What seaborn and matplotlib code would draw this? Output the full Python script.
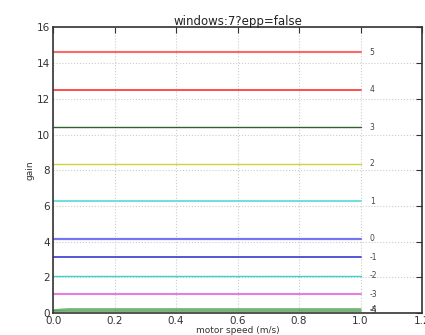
import matplotlib
matplotlib.use("Agg")
import matplotlib.pyplot as plt
import seaborn as sns
import pandas as pd

labels = ["5", "4", "3", "2", "1", "0", "-1", "-2", "-3", "-4", "-5"]
gains = [14.6, 12.5, 10.42, 8.35, 6.25, 4.17, 3.12, 2.08, 1.04, 0.21, 0.12]
colors = ["#ff5555", "#ff3a3a", "#1a4f1a", "#cccc22", "#66dada", "#6666ee",
          "#4444d4", "#22cccc", "#e070e0", "#66b066", "#559955"]
widths = [1.5, 1.4, 1.0, 1.0, 1.5, 1.6, 1.4, 1.0, 1.5, 1.5, 1.2]
speeds = [0.0, 0.05, 1.0]
start_offsets = [0, 0, 0, 0, 0, 0, 0, 0, 0, -0.06, 0]

sns.set_style("white")
plt.rcParams["font.family"] = ["DejaVu Sans"]

fig = plt.figure(figsize=(4.25, 3.35), dpi=100)
ax = fig.add_axes([0.125, 0.066, 0.868, 0.852])

rows = []
for lab, g, off in zip(labels, gains, start_offsets):
    for i, s in enumerate(speeds):
        rows.append({"speed": s, "gain": g + (off if i == 0 else 0), "level": lab})
df = pd.DataFrame(rows)

for lab, col, w in zip(labels, colors, widths):
    sub = df[df["level"] == lab]
    sns.lineplot(data=sub, x="speed", y="gain", ax=ax, color=col, lw=w,
                 alpha=0.9, legend=False, estimator=None)
    ax.text(1.03, sub["gain"].iloc[-1], lab, fontsize=5.5, va="center",
            ha="left", color="#444444")

ax.set_xlim(0, 1.2)
ax.set_ylim(0, 16)
ax.set_xticks([0, 0.2, 0.4, 0.6, 0.8, 1.0, 1.2])
ax.set_yticks([0, 2, 4, 6, 8, 10, 12, 14, 16])
ax.grid(True, linestyle=":", color="#cccccc", lw=0.8)
ax.tick_params(direction="in", length=4, top=True, right=True, labelsize=7.5,
               colors="#333333", pad=2)
for sp in ax.spines.values():
    sp.set_color("#333333")
    sp.set_linewidth(1.2)
ax.set_xlabel("motor speed (m/s)", fontsize=6.5, color="#333333", labelpad=0)
ax.set_ylabel("gain", fontsize=6.5, color="#333333", labelpad=2)
ax.set_title("windows:7?epp=false", fontsize=8.5, color="#222222", pad=2)

fig.savefig("out.png", dpi=100)
